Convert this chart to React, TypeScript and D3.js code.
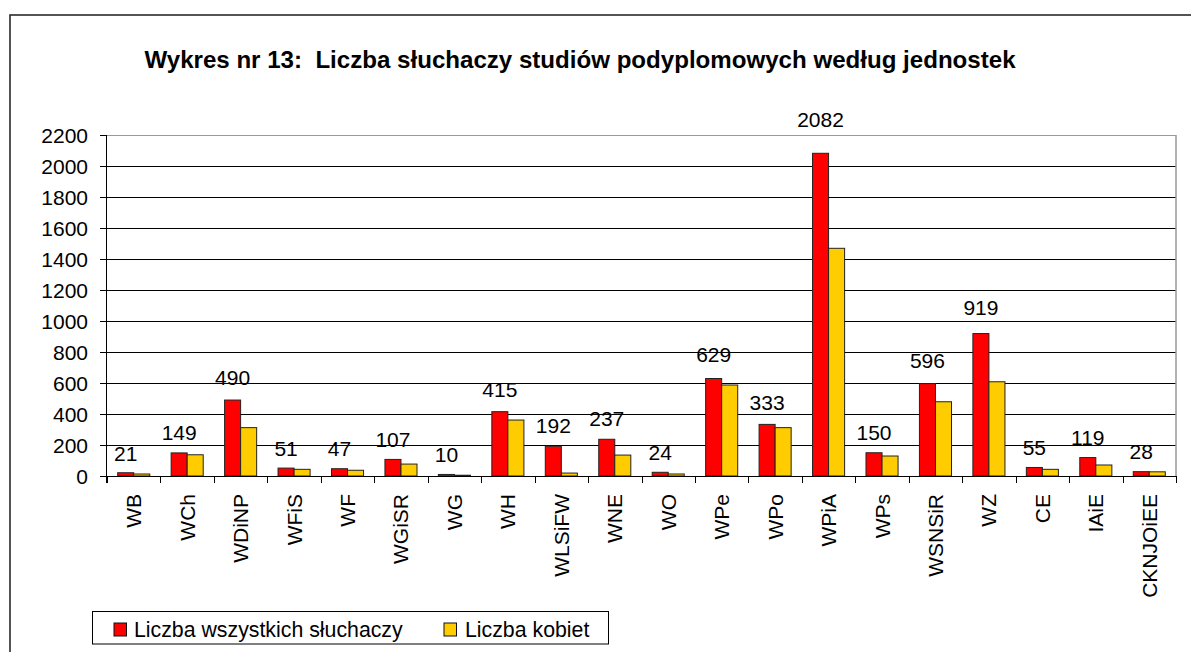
import React from "react";
import * as d3 from "d3";

const categories = ["WB","WCh","WDiNP","WFiS","WF","WGiSR","WG","WH","WLSiFW","WNE","WO","WPe","WPo","WPiA","WPs","WSNSiR","WZ","CE","IAiE","CKNJOiEE"];
const allStudents = [21,149,490,51,47,107,10,415,192,237,24,629,333,2082,150,596,919,55,119,28];
const women = [13,137,312,43,37,77,5,361,19,135,13,587,312,1469,129,479,608,43,71,27];
const yTicks = [0,200,400,600,800,1000,1200,1400,1600,1800,2000,2200];
const seriesNames = ["Liczba wszystkich słuchaczy","Liczba kobiet"];
const seriesColors = ["#FF0000","#FFCC00"];
const title = "Wykres nr 13:  Liczba słuchaczy studiów podyplomowych według jednostek";

const FONT = "'Liberation Sans', Arial, sans-serif";

export default function App() {
  const W = 1191, H = 652;
  const left = 107, right = 1176, top = 135, bottom = 476;

  const x0 = d3.scaleBand<string>().domain(categories).range([left, right]).paddingInner(0.4).paddingOuter(0.2);
  const x1 = d3.scaleBand<string>().domain(["a", "b"]).range([0, x0.bandwidth()]).padding(0);
  const y = d3.scaleLinear().domain([0, 2200]).range([bottom, top]);
  const step = x0.step();
  const crisp = (v: number) => Math.round(v) + 0.5;
  // label lift grows slightly with bar height (as in the reference)
  const lift = d3.scaleLinear().domain([0, 2200]).range([12, 27]);

  const series = [allStudents, women];

  return (
    <svg width={W} height={H} style={{ position: "absolute", left: 0, top: 0, display: "block", background: "#fff" }} fontFamily={FONT}>
      <rect x={10} y={15} width={1300} height={800} fill="#fff" stroke="#2a2a2a" strokeWidth={1.6} />
      <text x={580} y={68} textAnchor="middle" fontWeight="bold" fontSize={24.1} fill="#000" style={{ whiteSpace: "pre" }}>{title}</text>

      {/* gridlines */}
      {yTicks.map((t) => (
        <line key={"g" + t} x1={left} x2={right} y1={crisp(y(t))} y2={crisp(y(t))} stroke={t === 2200 ? "#999" : "#000"} strokeWidth={1} />
      ))}
      <line x1={right} x2={right} y1={top} y2={bottom} stroke="#999" strokeWidth={1.5} />

      {/* bars */}
      {categories.map((c, i) => (
        <g key={c}>
          {series.map((s, k) => (
            <rect key={k}
              x={(x0(c) as number) + (x1(k === 0 ? "a" : "b") as number)}
              y={y(s[i])}
              width={x1.bandwidth()}
              height={bottom - y(s[i])}
              fill={seriesColors[k]}
              stroke="#222"
              strokeWidth={1} />
          ))}
        </g>
      ))}

      {/* value labels */}
      {categories.map((c, i) => (
        <text key={"v" + c}
          x={(x0(c) as number) + (x1("a") as number) + x1.bandwidth() / 2}
          y={y(allStudents[i]) - lift(allStudents[i])}
          textAnchor="middle" fontSize={21} fill="#000">{allStudents[i]}</text>
      ))}

      {/* y axis */}
      <line x1={crisp(left) - 1} x2={crisp(left) - 1} y1={top} y2={bottom + 7} stroke="#000" strokeWidth={1} />
      {yTicks.map((t) => (
        <g key={"yt" + t}>
          <line x1={left - 7} x2={left} y1={crisp(y(t))} y2={crisp(y(t))} stroke="#000" />
          <text x={88} y={y(t) + 7.5} textAnchor="end" fontSize={21} fill="#000">{t}</text>
        </g>
      ))}

      {/* x axis */}
      <line x1={left} x2={right} y1={crisp(bottom)} y2={crisp(bottom)} stroke="#000" strokeWidth={1} />
      {d3.range(categories.length + 1).map((i) => (
        <line key={"xt" + i} x1={crisp(left + i * step)} x2={crisp(left + i * step)} y1={bottom} y2={bottom + 7} stroke="#000" />
      ))}
      {categories.map((c) => {
        const cx = (x0(c) as number) + x0.bandwidth() / 2;
        return (
          <text key={"xl" + c} transform={`translate(${cx + 7.5},494) rotate(-90)`} textAnchor="end" fontSize={21} fill="#000">{c}</text>
        );
      })}

      {/* legend */}
      <rect x={92.5} y={611.5} width={516} height={32.5} fill="#fff" stroke="#000" strokeWidth={1} />
      <rect x={114} y={623} width={12.5} height={13} fill={seriesColors[0]} stroke="#111" />
      <text x={134} y={636.5} fontSize={21.3} fill="#000">{seriesNames[0]}</text>
      <rect x={444} y={623} width={12.5} height={13} fill={seriesColors[1]} stroke="#111" />
      <text x={465} y={636.5} fontSize={21.3} fill="#000">{seriesNames[1]}</text>
    </svg>
  );
}
